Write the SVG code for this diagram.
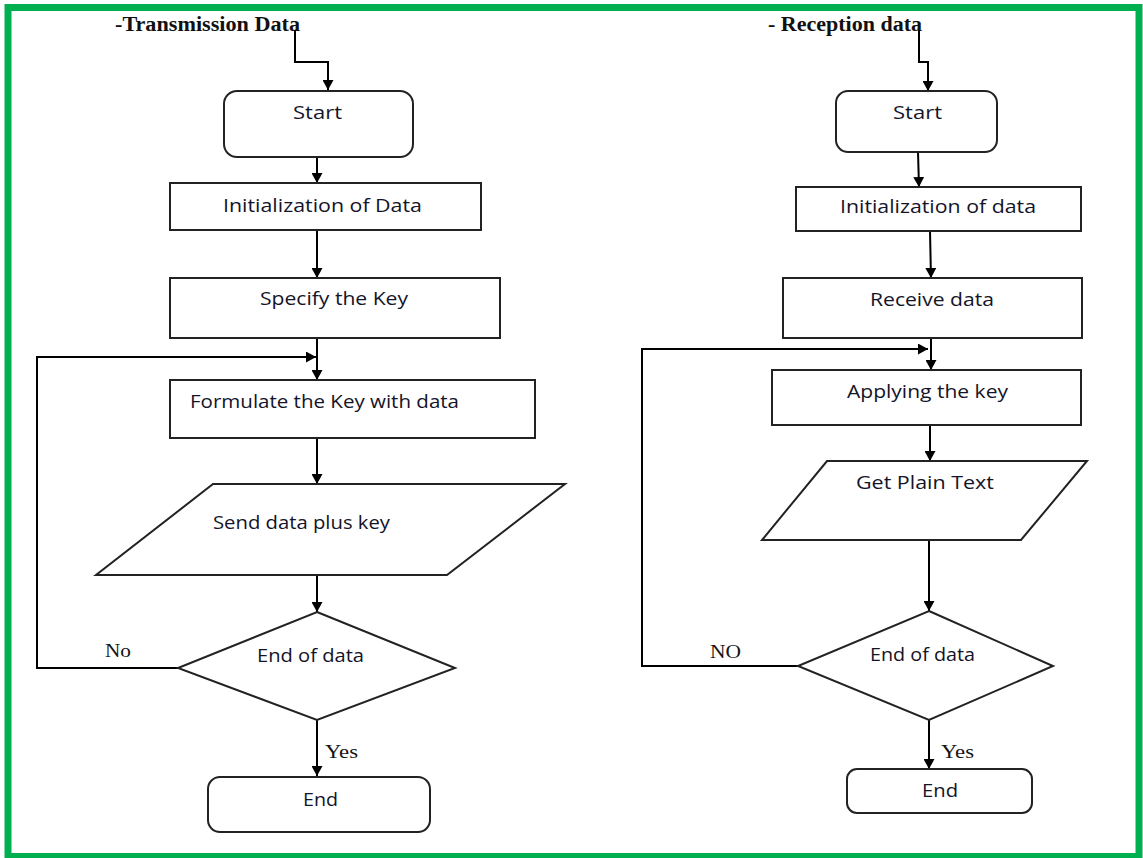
<svg xmlns="http://www.w3.org/2000/svg" width="1143" height="858" viewBox="0 0 1143 858">
<defs>
<marker id="ah" markerUnits="userSpaceOnUse" markerWidth="11" markerHeight="11" refX="10" refY="5.5" orient="auto">
<path d="M0,0 L10,5.5 L0,11 z" fill="#000"/>
</marker>
<style>
.box{fill:#fff;stroke:#222;stroke-width:2}
.lbl{font-family:"Open Sans","DejaVu Sans",sans-serif;font-size:18px;fill:#141428}
.ser{font-family:"Liberation Serif","Times New Roman",serif;font-size:19px;fill:#141414}
.ttl{font-family:"Liberation Serif","Times New Roman",serif;font-size:20px;font-weight:bold;fill:#111}
.con{fill:none;stroke:#000;stroke-width:2}
.arr{marker-end:url(#ah)}
</style>
</defs>
<rect x="0" y="0" width="1143" height="858" fill="#fff"/>
<rect x="8" y="7.5" width="1131" height="849" fill="#fff" stroke="#00b050" stroke-width="7"/>

<text class="ttl" x="115" y="31" textLength="185" lengthAdjust="spacingAndGlyphs">-Transmission Data</text>
<text class="ttl" x="768" y="31" textLength="154" lengthAdjust="spacingAndGlyphs">- Reception data</text>

<g id="connectors">
<path class="con arr" d="M295,30 V62 H328 V90"/>
<path class="con arr" d="M317,157 V183"/>
<path class="con arr" d="M317,230 V278"/>
<path class="con arr" d="M317,338 V380"/>
<path class="con arr" d="M178,668 H37 V357 H316"/>
<path class="con arr" d="M317,438 V484"/>
<path class="con arr" d="M317,575 V612"/>
<path class="con arr" d="M317,720 V776"/>

<path class="con arr" d="M919,30 V62 H928 V91"/>
<path class="con arr" d="M918,152 L919,187"/>
<path class="con arr" d="M930,231 L931,278"/>
<path class="con arr" d="M931,338 V370"/>
<path class="con arr" d="M798,666 H642 V349 H928"/>
<path class="con arr" d="M930,425 V461"/>
<path class="con arr" d="M929,540 V611"/>
<path class="con arr" d="M929,720 V769"/>
</g>

<g id="t_start">
<rect class="box" x="224" y="91" width="189" height="66" rx="13"/>
<text class="lbl" x="293" y="119" textLength="49" lengthAdjust="spacingAndGlyphs">Start</text>
</g>
<g id="t_init">
<rect class="box" x="170" y="183" width="311" height="47"/>
<text class="lbl" x="223" y="212" textLength="199" lengthAdjust="spacingAndGlyphs">Initialization of Data</text>
</g>
<g id="t_key">
<rect class="box" x="170" y="278" width="330" height="60"/>
<text class="lbl" x="260" y="305" textLength="148" lengthAdjust="spacingAndGlyphs">Specify the Key</text>
</g>
<g id="t_form">
<rect class="box" x="170" y="380" width="365" height="58"/>
<text class="lbl" x="190" y="408" textLength="269" lengthAdjust="spacingAndGlyphs">Formulate the Key with data</text>
</g>
<g id="t_send">
<polygon class="box" points="213,484 565,484 447,575 96,575"/>
<text class="lbl" x="213" y="529" textLength="177" lengthAdjust="spacingAndGlyphs">Send data plus key</text>
</g>
<g id="t_dec">
<polygon class="box" points="317,612 455,668 317,720 178,668"/>
<text class="lbl" x="257" y="662" textLength="107" lengthAdjust="spacingAndGlyphs">End of data</text>
<text class="ser" x="105" y="657" textLength="26" lengthAdjust="spacingAndGlyphs">No</text>
<text class="ser" x="325" y="758" textLength="33" lengthAdjust="spacingAndGlyphs">Yes</text>
</g>
<g id="t_end">
<rect class="box" x="208" y="777" width="222" height="55" rx="12"/>
<text class="lbl" x="303" y="806" textLength="35" lengthAdjust="spacingAndGlyphs">End</text>
</g>

<g id="r_start">
<rect class="box" x="836" y="91" width="161" height="61" rx="12"/>
<text class="lbl" x="893" y="119" textLength="49" lengthAdjust="spacingAndGlyphs">Start</text>
</g>
<g id="r_init">
<rect class="box" x="796" y="187" width="285" height="44"/>
<text class="lbl" x="840" y="213" textLength="196" lengthAdjust="spacingAndGlyphs">Initialization of data</text>
</g>
<g id="r_recv">
<rect class="box" x="783" y="278" width="299" height="60"/>
<text class="lbl" x="870" y="306" textLength="124" lengthAdjust="spacingAndGlyphs">Receive data</text>
</g>
<g id="r_apply">
<rect class="box" x="772" y="370" width="309" height="55"/>
<text class="lbl" x="847" y="398" textLength="161" lengthAdjust="spacingAndGlyphs">Applying the key</text>
</g>
<g id="r_plain">
<polygon class="box" points="827,461 1087,461 1021,540 762,540"/>
<text class="lbl" x="856" y="489" textLength="138" lengthAdjust="spacingAndGlyphs">Get Plain Text</text>
</g>
<g id="r_dec">
<polygon class="box" points="929,611 1053,666 929,720 798,666"/>
<text class="lbl" x="870" y="661" textLength="105" lengthAdjust="spacingAndGlyphs">End of data</text>
<text class="ser" x="710" y="658" textLength="31" lengthAdjust="spacingAndGlyphs">NO</text>
<text class="ser" x="941" y="758" textLength="33" lengthAdjust="spacingAndGlyphs">Yes</text>
</g>
<g id="r_end">
<rect class="box" x="847" y="769" width="185" height="44" rx="10"/>
<text class="lbl" x="922" y="797" textLength="36" lengthAdjust="spacingAndGlyphs">End</text>
</g>
</svg>
